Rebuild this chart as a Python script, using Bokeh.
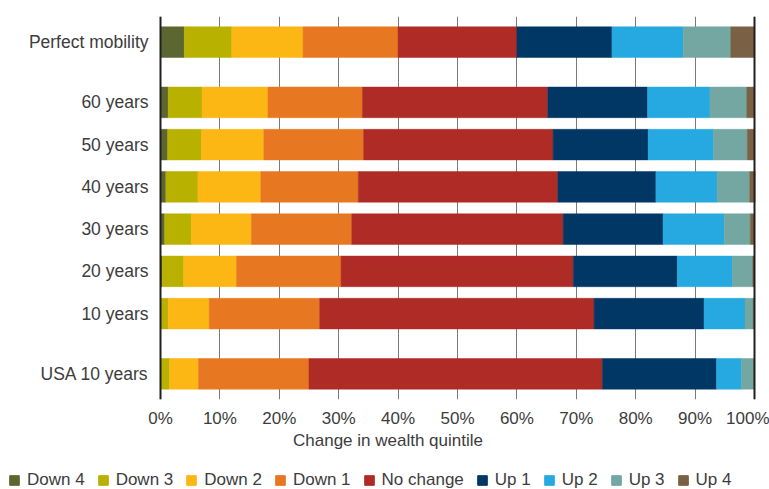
from bokeh.plotting import figure
from bokeh.layouts import column
from bokeh.core.properties import value
from bokeh.models import (FixedTicker, Legend, LegendItem, Span, Label,
                          ColumnDataSource, PrintfTickFormatter)
from bokeh.embed import file_html
from bokeh.resources import INLINE

categories = ["Perfect mobility", "60 years", "50 years", "40 years",
              "30 years", "20 years", "10 years", "USA 10 years"]
groups = [0, 1, 1, 1, 1, 1, 1, 2]
series = ["Down 4", "Down 3", "Down 2", "Down 1", "No change",
          "Up 1", "Up 2", "Up 3", "Up 4"]
down4 = [4.0, 1.3, 1.2, 0.9, 0.7, 0.3, 0.1, 0.1]
down3 = [8.0, 5.7, 5.7, 5.4, 4.5, 3.6, 1.2, 1.4]
down2 = [12.0, 11.1, 10.5, 10.6, 10.1, 8.9, 6.9, 4.9]
down1 = [16.0, 15.9, 16.8, 16.4, 16.9, 17.6, 18.6, 18.6]
no_change = [20.0, 31.2, 31.9, 33.6, 35.6, 39.1, 46.2, 49.4]
up1 = [16.0, 16.8, 16.0, 16.5, 16.8, 17.5, 18.5, 19.2]
up2 = [12.0, 10.5, 11.0, 10.3, 10.3, 9.3, 6.9, 4.2]
up3 = [8.0, 6.2, 5.7, 5.5, 4.4, 3.4, 1.4, 2.1]
up4 = [4.0, 1.3, 1.2, 0.9, 0.7, 0.3, 0.1, 0.1]
x_ticks = list(range(0, 101, 10))

colors = ["#5b6630", "#b8b100", "#fdb714", "#e87722", "#af2b26",
          "#003764", "#25a9e0", "#74a7a2", "#7a6044"]
text_color = "#3c3c3c"
dark = "#231f20"
font = "Liberation Sans"

# page geometry (pixels)
W = 769
H_MAIN = 430
H_FOOT = 59
LEFT_PX, RIGHT_PX = 160, 754          # where 0% and 100% sit
px_per_unit = (RIGHT_PX - LEFT_PX) / 100.0
x_start = -LEFT_PX / px_per_unit
x_end = 100 + (W - RIGHT_PX) / px_per_unit
label_x = -12 / px_per_unit           # right edge of category labels

gap = 0.425
ypos = [round(-(i + gap * g), 3) + 0.0 for i, g in enumerate(groups)]
pad = 0.607

data = dict(y=ypos, cat=categories)
for name, vals in zip(series, [down4, down3, down2, down1, no_change,
                               up1, up2, up3, up4]):
    data[name] = vals
src = ColumnDataSource(data)

p = figure(width=W, height=H_MAIN, x_range=(x_start, x_end),
           y_range=(ypos[-1] - pad, pad), y_axis_type=None,
           output_backend="svg", toolbar_location=None,
           min_border_left=0, min_border_right=0,
           min_border_top=16, min_border_bottom=26)
p.outline_line_color = None
p.background_fill_color = "white"

p.hbar_stack(series, y="y", height=0.724, source=src,
             fill_color=colors, line_color=colors, line_width=0.5)

# category labels
p.text(x=label_x, y="y", text="cat", source=src, text_align="right",
       text_baseline="middle", text_font=value(font),
       text_font_size=value("17.5px"), text_color=text_color)

# grid
p.xgrid.ticker = FixedTicker(ticks=x_ticks)
p.xgrid.grid_line_color = "#7a7a7a"
p.xgrid.grid_line_width = 1

for loc in (0, 100):
    p.add_layout(Span(location=loc, dimension="height", line_color=dark,
                      line_width=2))

# x axis
xa = p.xaxis[0]
xa.ticker = FixedTicker(ticks=x_ticks)
xa.formatter = PrintfTickFormatter(format="%d%%")
xa.axis_line_color = None
xa.major_tick_line_color = None
xa.minor_tick_line_color = None
xa.major_label_standoff = 3
xa.major_label_text_font = font
xa.major_label_text_font_size = "17px"
xa.major_label_text_color = text_color

# footer: axis title + legend
f = figure(width=W, height=H_FOOT, x_range=(0, W), y_range=(0, H_FOOT),
           x_axis_type=None, y_axis_type=None,
           output_backend="svg", toolbar_location=None, min_border=0)
f.grid.visible = False
f.outline_line_color = None

f.add_layout(Label(x=W / 2 + 3, y=H_FOOT - 10,
                   text="Change in wealth quintile",
                   text_align="center", text_baseline="middle",
                   text_font=font, text_font_size="17px",
                   text_color=text_color))

# legend swatches: off-screen dummy quads that only carry the colours
swatches = [f.quad(left=[-20], right=[-10], top=[-10], bottom=[-20],
                   fill_color=c, line_color=c) for c in colors]
legend = Legend(items=[LegendItem(label=s, renderers=[r])
                       for s, r in zip(series, swatches)],
                orientation="horizontal", location=(8, -1),
                padding=0, margin=0, spacing=12, label_standoff=7,
                glyph_width=12, glyph_height=12,
                label_text_font=font, label_text_font_size="17px",
                label_text_color=text_color,
                border_line_color=None, background_fill_alpha=0)
f.add_layout(legend)

open("out.html", "w").write(file_html(column(p, f, spacing=0), INLINE))
